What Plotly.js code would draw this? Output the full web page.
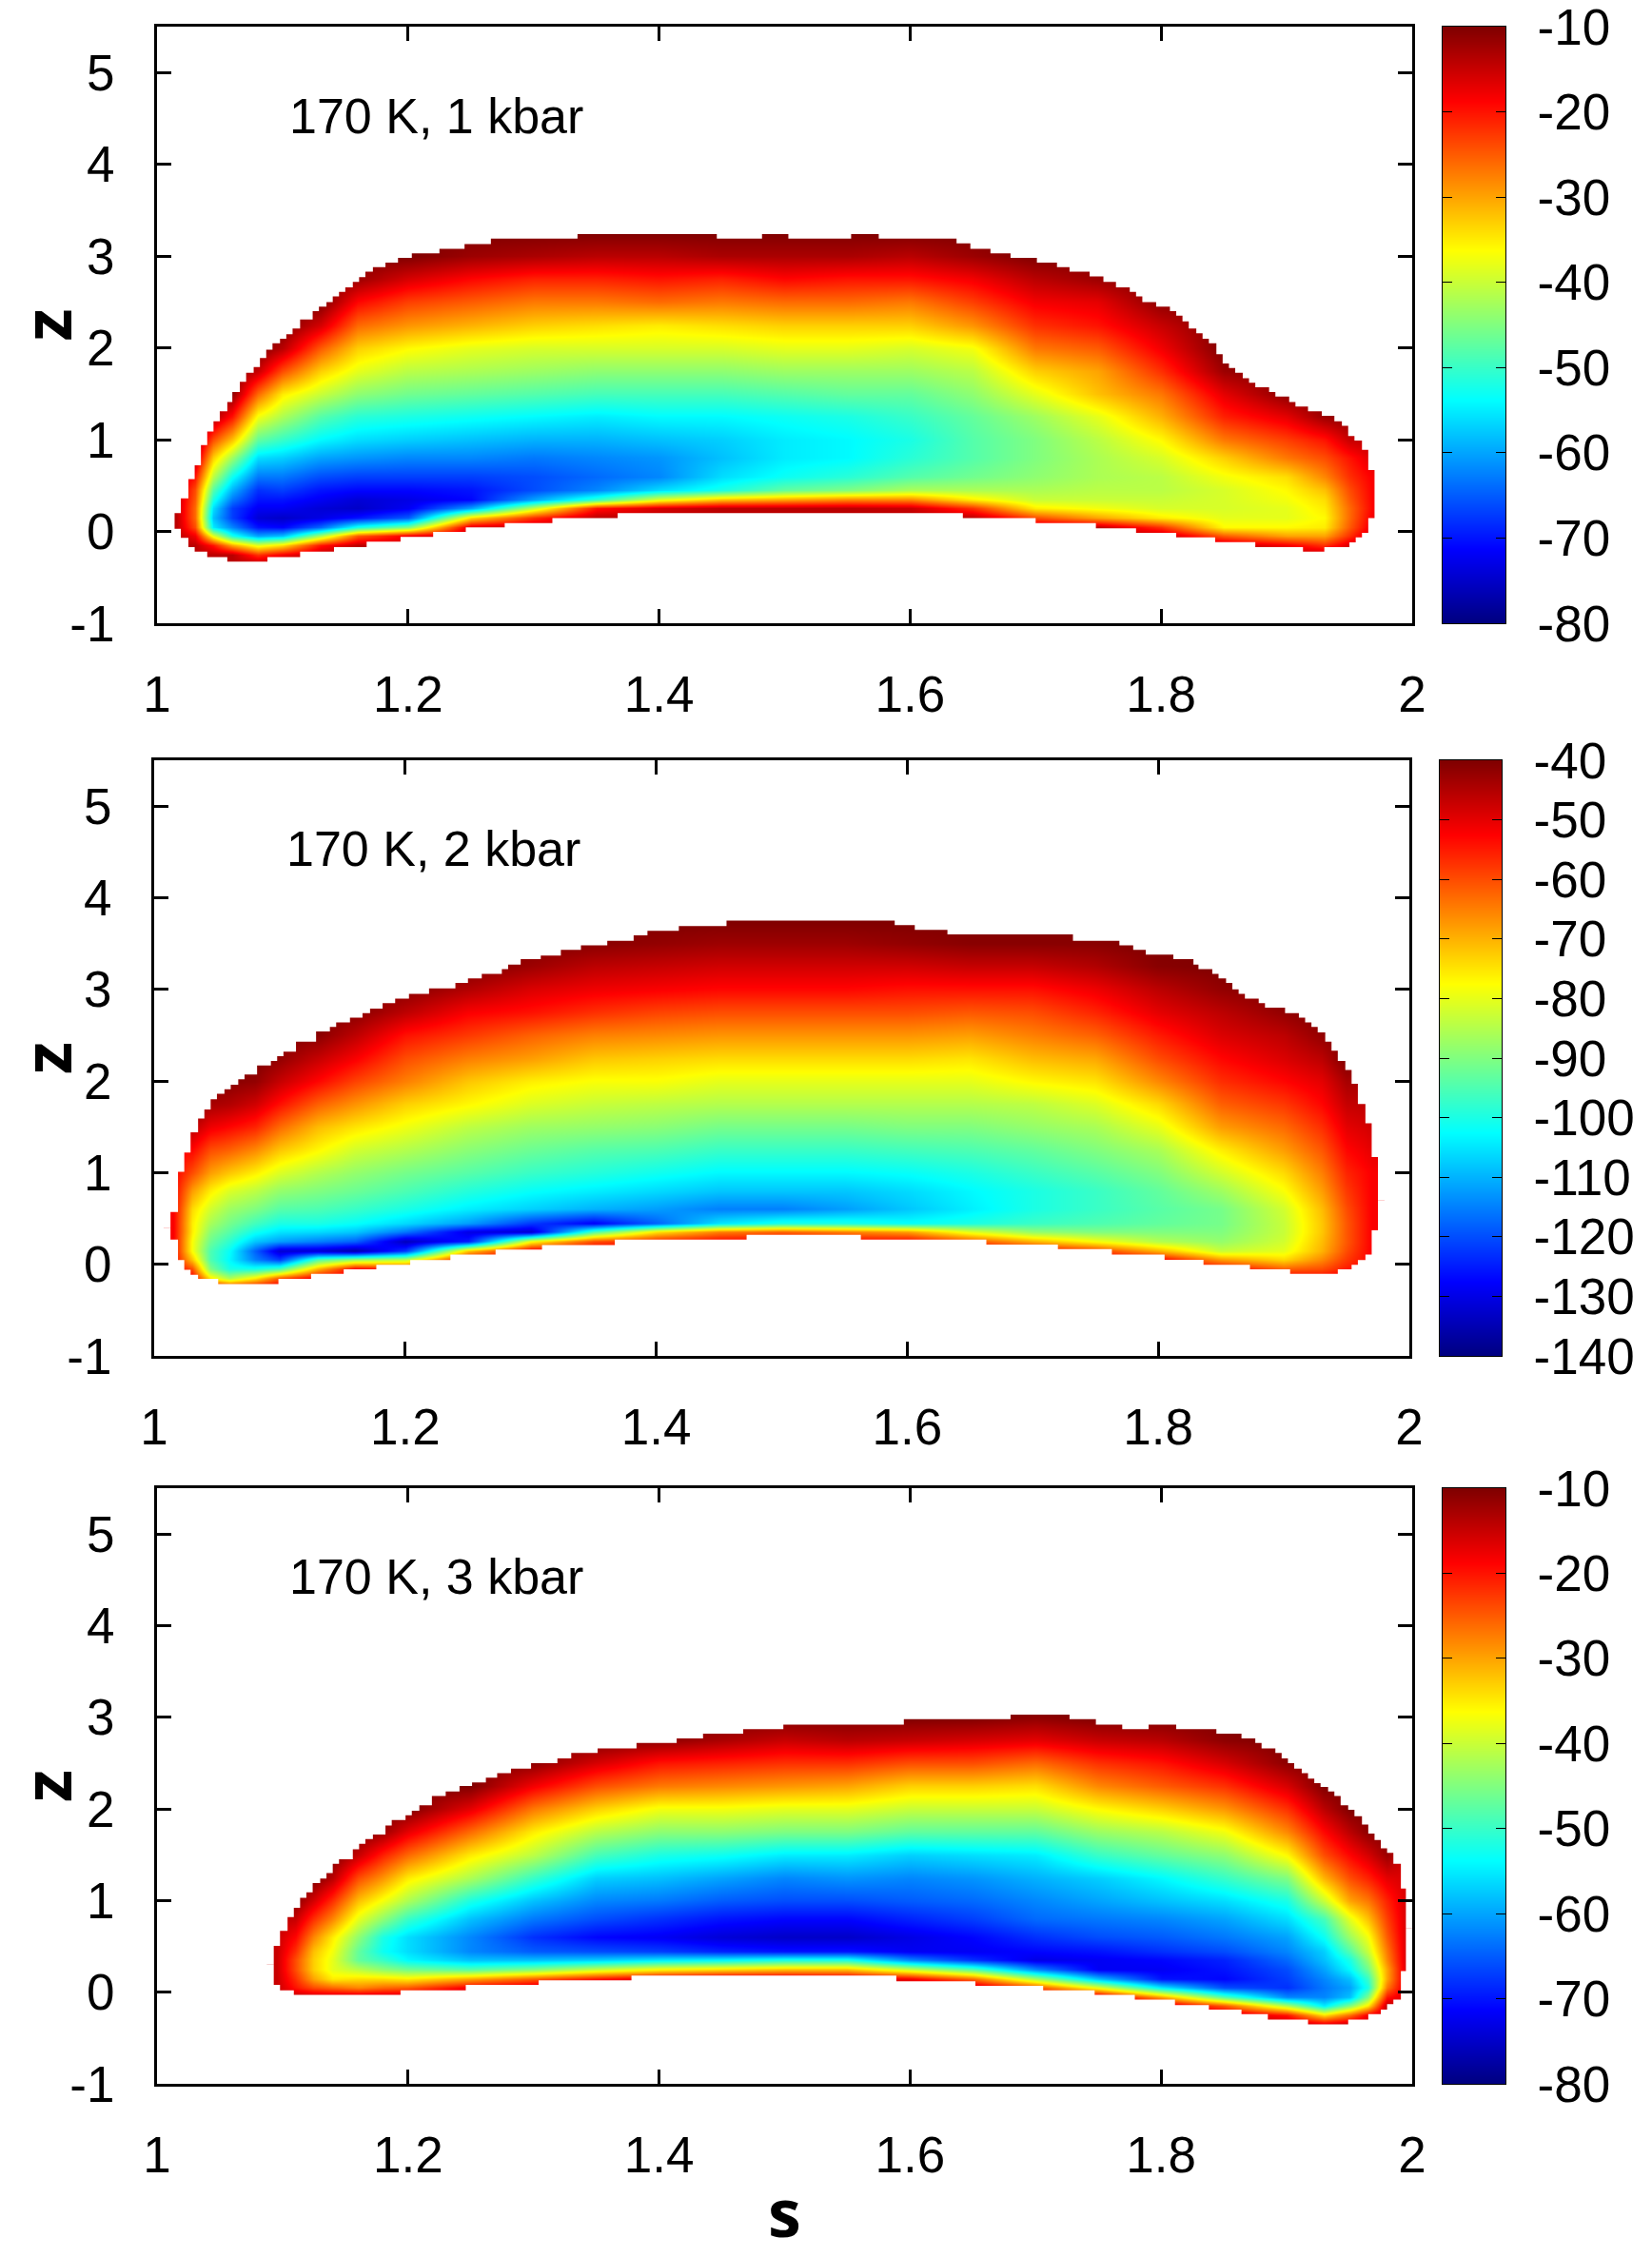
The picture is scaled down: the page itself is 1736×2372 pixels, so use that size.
<!DOCTYPE html>
<html>
<head>
<meta charset="utf-8">
<script src="https://cdn.plot.ly/plotly-3.0.1.min.js"></script>
<style>body{margin:0;background:#fff}</style>
</head>
<body>
<div id="myChart"></div>
<script>
// z levels of the table rows
const rowsLow = [-0.35,-0.25,-0.15,-0.05,0.05,0.15,0.25,0.35,0.45,0.6,0.8,1,1.25,1.5,1.75,2,2.25,2.5,2.75,3,3.25];
const rowsHigh = rowsLow.concat([3.5,3.75]);

const xTicks = [1,1.2,1.4,1.6,1.8,2];
const xTickText = ["1","1.2","1.4","1.6","1.8","2"];
const yTicks = [-1,0,1,2,3,4,5];
const yTickText = ["-1","0","1","2","3","4","5"];
const barTicksA = [-80,-70,-60,-50,-40,-30,-20,-10];
const barTextA = ["-80","-70","-60","-50","-40","-30","-20","-10"];
const barTicksB = [-140,-130,-120,-110,-100,-90,-80,-70,-60,-50,-40];
const barTextB = ["-140","-130","-120","-110","-100","-90","-80","-70","-60","-50","-40"];

// 1 kbar: s of each column, then the values of that column bottom to top
const s1 = [1.015,1.03,1.045,1.06,1.08,1.10,1.13,1.16,1.20,1.25,1.30,1.35,1.40,1.45,1.50,1.55,1.60,1.65,1.70,1.75,1.80,1.85,1.90,1.93,1.95,1.97];
const v1 = [
[-14,-14,-14,-14,-14,-14,-14,-14,-14,-14,-14,-14,-14,-14,-14,-14,-14,-14,-14,-14,-14],
[-14,-14,-14,-18,-24,-26,-26,-25,-24,-20,-14,-11,-10,-10,-10,-10,-10,-10,-10,-10,-10],
[-14,-14,-20,-38,-55,-58,-56,-52,-48,-41,-33,-24,-13,-10,-10,-10,-10,-10,-10,-10,-10],
[-14,-14,-30,-52,-62,-67,-67,-63,-59,-53,-43,-32,-20,-11,-10,-10,-10,-10,-10,-10,-10],
[-14,-22,-38,-60,-70,-74,-72,-70,-68,-63,-56,-47,-37,-26,-15,-10,-10,-10,-10,-10,-10],
[-14,-18,-34,-58,-71,-75,-72,-70,-67,-63,-57,-50,-42,-35,-24,-14,-10,-10,-10,-10,-10],
[-14,-14,-20,-42,-64,-73,-74,-72,-70,-66,-60,-54,-48,-40,-33,-25,-16,-10,-10,-10,-10],
[-14,-14,-14,-25,-52,-70,-75,-74,-71,-67,-61,-56,-51,-44,-38,-33,-26,-19,-12,-10,-10],
[-15,-15,-15,-18,-45,-65,-72,-73,-71,-67,-62,-57,-52,-46,-41,-36,-29,-23,-16,-10,-10],
[-14,-14,-14,-14,-16,-34,-60,-71,-70,-67,-62,-58,-53,-47,-42,-38,-31,-25,-19,-12,-10],
[-14,-14,-14,-14,-14,-22,-40,-60,-66,-66,-63,-59,-54,-48,-43,-39,-33,-27,-21,-13,-10],
[-14,-14,-14,-14,-14,-14,-20,-50,-62,-64,-62,-59,-55,-49,-44,-39,-34,-27,-21,-14,-10],
[-14,-14,-14,-14,-14,-14,-16,-38,-56,-62,-61,-58,-54,-49,-44,-39,-35,-26,-20,-14,-10],
[-14,-14,-14,-14,-14,-14,-14,-32,-52,-56,-58,-57,-54,-49,-44,-39,-34,-27,-21,-13,-10],
[-14,-14,-14,-14,-14,-14,-14,-30,-47,-53,-55,-55,-53,-48,-43,-38,-33,-26,-19,-13,-10],
[-14,-14,-14,-14,-14,-14,-14,-28,-45,-51,-54,-54,-52,-47,-43,-38,-33,-26,-20,-13,-10],
[-14,-14,-14,-14,-14,-14,-15,-28,-42,-48,-51,-52,-50,-47,-43,-39,-33,-27,-20,-14,-10],
[-14,-14,-14,-14,-14,-14,-22,-35,-42,-46,-48,-48,-47,-44,-41,-37,-29,-23,-18,-12,-10],
[-14,-14,-14,-14,-14,-24,-35,-40,-42,-44,-45,-45,-43,-38,-33,-27,-22,-18,-14,-10,-10],
[-14,-14,-14,-14,-14,-30,-37,-40,-41,-42,-42,-41,-38,-32,-30,-25,-20,-17,-12,-10,-10],
[-14,-14,-14,-14,-22,-35,-39,-40,-41,-41,-39,-36,-31,-27,-22,-18,-15,-11,-10,-10,-10],
[-14,-14,-14,-25,-36,-38,-39,-39,-39,-37,-33,-27,-21,-17,-12,-10,-10,-10,-10,-10,-10],
[-14,-14,-18,-30,-36,-38,-38,-37,-36,-34,-27,-23,-17,-11,-10,-10,-10,-10,-10,-10,-10],
[-14,-14,-22,-30,-35,-36,-35,-34,-32,-28,-24,-20,-12,-10,-10,-10,-10,-10,-10,-10,-10],
[-14,-14,-16,-22,-25,-26,-26,-25,-24,-22,-20,-15,-11,-10,-10,-10,-10,-10,-10,-10,-10],
[-14,-14,-14,-14,-16,-17,-18,-18,-18,-18,-16,-14,-10,-10,-10,-10,-10,-10,-10,-10,-10]
];
const top1S = [1,1.014,1.019,1.025,1.03,1.035,1.04,1.045,1.05,1.056,1.06,1.066,1.071,1.077,1.082,1.087,1.092,1.098,1.103,1.108,1.114,1.124,1.129,1.135,1.14,1.145,1.15,1.156,1.161,1.166,1.172,1.182,1.192,1.203,1.225,1.245,1.266,1.335,1.446,1.482,1.503,1.553,1.575,1.637,1.648,1.664,1.68,1.701,1.717,1.727,1.743,1.754,1.764,1.775,1.78,1.785,1.796,1.807,1.812,1.817,1.822,1.828,1.833,1.838,1.844,1.849,1.854,1.859,1.865,1.87,1.875,1.886,1.891,1.902,1.907,1.917,1.928,1.938,1.944,1.949,1.954,1.96,1.965,1.97,2];
const top1Z = [0.1,0.2,0.36,0.57,0.72,0.94,1.09,1.2,1.31,1.41,1.52,1.63,1.73,1.79,1.89,1.98,2.05,2.1,2.15,2.21,2.31,2.4,2.45,2.5,2.56,2.61,2.66,2.72,2.77,2.83,2.88,2.93,2.98,3.03,3.08,3.13,3.19,3.24,3.19,3.24,3.19,3.24,3.19,3.14,3.08,3.03,2.98,2.93,2.88,2.83,2.78,2.72,2.66,2.61,2.56,2.5,2.45,2.4,2.35,2.29,2.21,2.16,2.1,2.05,1.93,1.83,1.78,1.73,1.67,1.62,1.57,1.52,1.47,1.41,1.36,1.31,1.26,1.2,1.15,1.04,0.99,0.89,0.67,0.4,0.4];
const bot1S = [1,1.014,1.019,1.025,1.03,1.04,1.056,1.088,1.114,1.141,1.167,1.194,1.22,1.246,1.277,1.315,1.367,1.642,1.7,1.748,1.78,1.812,1.843,1.875,1.913,1.93,1.95,1.955,1.96,1.965,1.97,2];
const bot1Z = [0.1,0.03,-0.07,-0.17,-0.22,-0.28,-0.33,-0.28,-0.22,-0.17,-0.11,-0.06,-0.005,0.045,0.09,0.146,0.2,0.146,0.09,0.035,-0.015,-0.065,-0.116,-0.17,-0.22,-0.17,-0.12,-0.065,-0.015,0.146,0.4,0.4];

// 2 kbar
const s2 = [1.015,1.03,1.045,1.06,1.08,1.10,1.13,1.16,1.20,1.25,1.30,1.35,1.40,1.45,1.50,1.55,1.60,1.65,1.70,1.75,1.80,1.85,1.90,1.93,1.95,1.97];
const v2 = [
[-52,-52,-52,-52,-52,-52,-52,-52,-52,-52,-52,-52,-52,-52,-52,-52,-52,-52,-52,-52,-52,-52,-52],
[-50,-50,-52,-60,-72,-78,-78,-76,-76,-74,-68,-60,-53,-46,-40,-40,-40,-40,-40,-40,-40,-40,-40],
[-50,-50,-75,-90,-95,-95,-92,-89,-86,-82,-76,-68,-60,-51,-44,-40,-40,-40,-40,-40,-40,-40,-40],
[-50,-55,-85,-100,-103,-102,-98,-94,-91,-87,-81,-72,-62,-53,-45,-41,-40,-40,-40,-40,-40,-40,-40],
[-50,-52,-75,-100,-115,-118,-108,-101,-96,-90,-84,-76,-66,-56,-48,-42,-40,-40,-40,-40,-40,-40,-40],
[-50,-50,-60,-95,-122,-132,-112,-105,-100,-94,-88,-81,-72,-63,-54,-47,-42,-40,-40,-40,-40,-40,-40],
[-50,-50,-50,-70,-95,-132,-115,-106,-100,-95,-90,-85,-77,-71,-62,-53,-47,-41,-40,-40,-40,-40,-40],
[-50,-50,-50,-52,-88,-136,-118,-108,-102,-97,-92,-88,-82,-75,-67,-59,-52,-46,-41,-40,-40,-40,-40],
[-50,-50,-50,-55,-85,-122,-134,-116,-106,-100,-95,-91,-85,-79,-73,-65,-60,-54,-46,-41,-40,-40,-40],
[-50,-50,-50,-50,-52,-72,-125,-130,-112,-104,-99,-94,-89,-84,-77,-72,-65,-58,-52,-45,-40,-40,-40],
[-50,-50,-50,-50,-50,-50,-78,-132,-122,-107,-102,-97,-92,-87,-81,-76,-68,-62,-54,-49,-43,-40,-40],
[-50,-50,-50,-50,-50,-50,-60,-95,-128,-110,-104,-99,-94,-88,-83,-78,-72,-65,-57,-51,-46,-41,-40],
[-50,-50,-50,-50,-50,-50,-55,-75,-118,-112,-106,-101,-95,-89,-84,-78,-73,-66,-59,-52,-47,-42,-40],
[-50,-50,-50,-50,-50,-50,-52,-65,-105,-115,-108,-103,-97,-91,-85,-80,-74,-67,-60,-53,-48,-43,-40],
[-50,-50,-50,-50,-50,-50,-52,-62,-100,-115,-108,-103,-97,-91,-85,-80,-74,-67,-60,-53,-48,-43,-40],
[-50,-50,-50,-50,-50,-50,-52,-65,-100,-112,-108,-103,-97,-91,-85,-80,-74,-67,-60,-53,-48,-43,-40],
[-50,-50,-50,-50,-50,-50,-52,-68,-102,-108,-106,-102,-96,-90,-85,-80,-74,-67,-60,-54,-48,-42,-40],
[-50,-50,-50,-50,-50,-50,-60,-80,-100,-104,-103,-100,-95,-90,-85,-80,-75,-68,-61,-54,-47,-41,-40],
[-50,-50,-50,-50,-50,-52,-70,-88,-97,-100,-100,-97,-93,-88,-84,-77,-71,-65,-60,-54,-47,-41,-40],
[-50,-50,-50,-50,-50,-58,-78,-90,-95,-97,-97,-94,-90,-86,-81,-75,-69,-62,-56,-51,-45,-41,-40],
[-50,-50,-50,-50,-52,-70,-85,-90,-93,-94,-93,-90,-86,-80,-74,-66,-60,-55,-50,-46,-41,-40,-40],
[-50,-50,-50,-52,-68,-83,-88,-90,-91,-91,-87,-82,-76,-68,-62,-57,-53,-49,-46,-42,-40,-40,-40],
[-50,-50,-50,-62,-74,-80,-82,-83,-83,-82,-78,-74,-68,-63,-58,-53,-49,-46,-42,-40,-40,-40,-40],
[-50,-50,-52,-60,-66,-70,-71,-72,-72,-71,-68,-65,-61,-57,-53,-50,-46,-42,-40,-40,-40,-40,-40],
[-50,-50,-50,-55,-58,-60,-61,-61,-61,-60,-58,-56,-53,-50,-47,-44,-40,-40,-40,-40,-40,-40,-40],
[-52,-52,-52,-52,-52,-52,-52,-52,-52,-52,-52,-52,-50,-48,-46,-44,-40,-40,-40,-40,-40,-40,-40]
];
const top2S = [1,1.013,1.019,1.024,1.029,1.035,1.04,1.045,1.05,1.056,1.061,1.067,1.072,1.082,1.093,1.098,1.103,1.113,1.129,1.14,1.145,1.156,1.166,1.172,1.182,1.192,1.203,1.219,1.24,1.25,1.261,1.277,1.282,1.292,1.308,1.324,1.34,1.361,1.382,1.393,1.418,1.456,1.59,1.606,1.632,1.732,1.769,1.78,1.79,1.812,1.828,1.832,1.843,1.848,1.854,1.859,1.864,1.869,1.88,1.885,1.901,1.912,1.917,1.922,1.927,1.933,1.938,1.943,1.949,1.954,1.959,1.965,1.97,1.975,2];
const top2Z = [0.4,0.57,1.01,1.22,1.44,1.59,1.69,1.8,1.86,1.91,1.96,2.02,2.07,2.17,2.22,2.27,2.32,2.43,2.54,2.59,2.64,2.69,2.74,2.79,2.85,2.9,2.95,3.01,3.07,3.12,3.17,3.22,3.27,3.33,3.37,3.43,3.48,3.53,3.59,3.64,3.69,3.75,3.7,3.65,3.6,3.53,3.48,3.43,3.38,3.33,3.27,3.22,3.17,3.12,3.07,3.0,2.95,2.9,2.85,2.8,2.74,2.69,2.64,2.59,2.53,2.43,2.33,2.22,2.12,1.97,1.75,1.54,1.17,0.7,0.7];
const bot2S = [1,1.013,1.019,1.024,1.029,1.035,1.051,1.099,1.125,1.151,1.177,1.204,1.236,1.272,1.309,1.367,1.472,1.563,1.663,1.72,1.763,1.805,1.836,1.873,1.905,1.943,1.954,1.959,1.965,1.97,1.975,2];
const bot2Z = [0.4,0.27,0.045,-0.06,-0.116,-0.16,-0.216,-0.16,-0.105,-0.055,-0.005,0.045,0.105,0.16,0.21,0.27,0.32,0.27,0.216,0.166,0.105,0.05,-0.005,-0.055,-0.105,-0.055,-0.005,0.045,0.105,0.37,0.7,0.7];

// 3 kbar
const s3 = [1.095,1.11,1.125,1.14,1.16,1.18,1.20,1.25,1.30,1.35,1.40,1.45,1.50,1.55,1.60,1.65,1.70,1.75,1.80,1.85,1.90,1.93,1.95,1.965,1.98,1.995];
const v3 = [
[-15,-15,-15,-15,-15,-15,-15,-15,-15,-15,-14,-14,-14,-14,-14,-14,-14,-14,-14,-14,-14],
[-14,-14,-14,-14,-20,-22,-24,-24,-22,-19,-15,-11,-10,-10,-10,-10,-10,-10,-10,-10,-10],
[-14,-14,-14,-14,-24,-30,-33,-33,-32,-28,-22,-16,-10,-10,-10,-10,-10,-10,-10,-10,-10],
[-14,-14,-14,-14,-26,-35,-38,-38,-37,-35,-28,-22,-14,-10,-10,-10,-10,-10,-10,-10,-10],
[-14,-14,-14,-14,-28,-34,-41,-47,-47,-44,-38,-32,-24,-15,-10,-10,-10,-10,-10,-10,-10],
[-14,-14,-14,-14,-26,-34,-44,-50,-53,-52,-44,-37,-29,-21,-12,-10,-10,-10,-10,-10,-10],
[-14,-14,-14,-14,-25,-35,-46,-54,-56,-56,-50,-42,-35,-26,-17,-10,-10,-10,-10,-10,-10],
[-14,-14,-14,-14,-18,-30,-48,-58,-62,-62,-58,-52,-42,-35,-26,-17,-10,-10,-10,-10,-10],
[-14,-14,-14,-14,-15,-25,-45,-58,-65,-68,-63,-58,-50,-41,-35,-27,-18,-11,-10,-10,-10],
[-14,-14,-14,-14,-14,-20,-40,-57,-66,-71,-66,-62,-57,-49,-41,-33,-24,-16,-10,-10,-10],
[-14,-14,-14,-14,-14,-16,-36,-55,-67,-72,-68,-63,-58,-52,-44,-37,-27,-20,-11,-10,-10],
[-14,-14,-14,-14,-14,-14,-34,-54,-69,-74,-70,-65,-60,-53,-44,-37,-28,-21,-13,-10,-10],
[-14,-14,-14,-14,-14,-14,-32,-52,-70,-75,-71,-66,-62,-55,-45,-38,-29,-22,-15,-10,-10],
[-14,-14,-14,-14,-14,-15,-32,-52,-70,-75,-71,-66,-61,-55,-45,-38,-30,-22,-14,-10,-10],
[-14,-14,-14,-14,-14,-18,-40,-62,-72,-73,-69,-65,-62,-57,-47,-40,-33,-24,-15,-10,-10],
[-14,-14,-14,-14,-14,-26,-48,-68,-72,-71,-67,-64,-61,-56,-47,-40,-33,-24,-16,-10,-10],
[-14,-14,-14,-14,-24,-42,-62,-73,-71,-68,-64,-62,-59,-55,-47,-40,-34,-26,-17,-11,-10],
[-14,-14,-14,-14,-38,-58,-72,-72,-70,-66,-63,-60,-57,-50,-43,-36,-28,-22,-15,-10,-10],
[-14,-14,-14,-30,-55,-70,-72,-71,-68,-65,-62,-58,-54,-47,-41,-33,-25,-20,-14,-10,-10],
[-14,-14,-25,-48,-66,-71,-70,-69,-66,-63,-60,-56,-50,-44,-37,-29,-22,-16,-11,-10,-10],
[-14,-20,-42,-62,-68,-67,-66,-64,-62,-60,-56,-52,-45,-36,-28,-22,-16,-11,-10,-10,-10],
[-16,-34,-55,-62,-63,-62,-60,-58,-57,-53,-49,-40,-31,-24,-19,-14,-10,-10,-10,-10,-10],
[-14,-26,-45,-58,-60,-58,-54,-52,-48,-43,-38,-30,-24,-19,-14,-10,-10,-10,-10,-10,-10],
[-14,-18,-35,-45,-52,-50,-46,-43,-40,-37,-32,-27,-21,-16,-11,-10,-10,-10,-10,-10,-10],
[-14,-14,-14,-20,-27,-30,-30,-28,-27,-25,-23,-21,-17,-12,-10,-10,-10,-10,-10,-10,-10],
[-16,-16,-16,-16,-16,-16,-16,-16,-16,-16,-16,-16,-16,-16,-14,-10,-10,-10,-10,-10,-10]
];
const top3S = [1,1.093,1.098,1.104,1.109,1.114,1.119,1.124,1.13,1.135,1.14,1.145,1.156,1.161,1.166,1.172,1.182,1.187,1.198,1.203,1.209,1.219,1.23,1.241,1.251,1.262,1.271,1.282,1.298,1.319,1.33,1.351,1.382,1.414,1.435,1.467,1.499,1.595,1.68,1.727,1.748,1.769,1.79,1.812,1.844,1.864,1.875,1.88,1.891,1.896,1.901,1.906,1.912,1.917,1.922,1.927,1.933,1.938,1.943,1.949,1.954,1.96,1.965,1.97,1.975,1.98,1.985,1.991,1.995,2];
const top3Z = [0.3,0.506,0.67,0.82,0.92,1.03,1.09,1.19,1.24,1.3,1.4,1.45,1.56,1.62,1.67,1.72,1.82,1.88,1.93,1.98,2.04,2.14,2.19,2.25,2.29,2.34,2.39,2.44,2.5,2.55,2.61,2.66,2.72,2.77,2.82,2.87,2.92,2.98,3.03,2.98,2.92,2.87,2.92,2.87,2.82,2.77,2.72,2.66,2.61,2.55,2.5,2.44,2.39,2.33,2.28,2.24,2.19,2.14,2.04,1.99,1.92,1.83,1.73,1.66,1.57,1.52,1.4,1.13,0.7,0.7];
const bot3S = [1,1.093,1.098,1.109,1.194,1.246,1.304,1.378,1.589,1.652,1.706,1.747,1.779,1.811,1.838,1.864,1.885,1.917,1.949,1.965,1.975,1.98,1.985,1.991,1.995,2];
const bot3Z = [0.3,0.08,0.02,-0.03,0.02,0.08,0.13,0.18,0.12,0.07,0.02,-0.03,-0.08,-0.14,-0.19,-0.24,-0.3,-0.35,-0.3,-0.24,-0.19,-0.13,-0.08,0.23,0.7,0.7];

const labels = ["170 K, 1 kbar","170 K, 2 kbar","170 K, 3 kbar"];

const jet = [
  [0,"#00007f"],[0.125,"#0000ff"],[0.375,"#00ffff"],[0.5,"#80ff80"],
  [0.625,"#ffff00"],[0.875,"#ff0000"],[1,"#7f0000"]
];

const W = 1736, H = 2372;
const font = "Liberation Sans, Arial, sans-serif";

// pixel boxes of the panels and their scale bars
const panels = [
  {s:s1, v:v1, rows:rowsLow,  topS:top1S, topZ:top1Z, botS:bot1S, botZ:bot1Z, zr:[-80,-10],  tv:barTicksA, tt:barTextA, l:165, r:1484, t:28,  b:655,  bl:1516, br:1582},
  {s:s2, v:v2, rows:rowsHigh, topS:top2S, topZ:top2Z, botS:bot2S, botZ:bot2Z, zr:[-140,-40], tv:barTicksB, tt:barTextB, l:162, r:1481, t:799, b:1425, bl:1513, br:1578},
  {s:s3, v:v3, rows:rowsLow,  topS:top3S, topZ:top3Z, botS:bot3S, botZ:bot3Z, zr:[-80,-10],  tv:barTicksA, tt:barTextA, l:165, r:1484, t:1564,b:2190, bl:1516, br:1582}
];

var traces = [];
var layout = {
  width: W, height: H, margin: {l:0,r:0,t:0,b:0},
  paper_bgcolor: "#fff", plot_bgcolor: "#fff",
  showlegend: false, annotations: [],
  font: {family: font, size: 53, color: "#000"}
};

panels.forEach((p, i) => {
  const a = 2*i + 1, b = 2*i + 2;
  const xa = "x" + a, ya = "y" + a, xb = "x" + b, yb = "y" + b;

  traces.push({
    type: "heatmap", x: p.s, y: p.rows, z: p.v, transpose: true,
    xaxis: xa, yaxis: ya, zmin: p.zr[0], zmax: p.zr[1],
    colorscale: jet, zsmooth: "best", showscale: false, hoverinfo: "skip"
  });
  // white above and below the outline of the data
  traces.push({
    type: "scatter", mode: "lines", xaxis: xa, yaxis: ya,
    x: p.topS.concat([2,1]), y: p.topZ.concat([5.5,5.5]),
    line: {shape:"hv", width:0}, fill:"toself", fillcolor:"#fff", hoverinfo:"skip"
  });
  traces.push({
    type: "scatter", mode: "lines", xaxis: xa, yaxis: ya,
    x: p.botS.concat([2,1]), y: p.botZ.concat([-1,-1]),
    line: {shape:"hv", width:0}, fill:"toself", fillcolor:"#fff", hoverinfo:"skip"
  });
  // scale bar
  traces.push({
    type: "heatmap", x: [0,1], y: p.zr, z: [[p.zr[0],p.zr[0]],[p.zr[1],p.zr[1]]],
    xaxis: xb, yaxis: yb, zmin: p.zr[0], zmax: p.zr[1],
    colorscale: jet, zsmooth: "best", showscale: false, hoverinfo: "skip"
  });

  const yDom = [1 - p.b/H, 1 - p.t/H];
  layout["xaxis" + a] = {
    domain: [p.l/W, p.r/W], range: [1,2], anchor: ya,
    tickmode: "array", tickvals: xTicks, ticktext: xTickText,
    ticks: "inside", ticklen: 15, tickwidth: 3, tickcolor: "#000",
    showline: true, linewidth: 3, linecolor: "#000", mirror: "ticks",
    showgrid: false, zeroline: false, ticklabelstandoff: 26,
    ticklabeloverflow: "allow",
    tickfont: {family: font, size: 53, color: "#000"},
    title: i === 2 ? {text: "<b>s</b>", font: {family: "Open Sans", size: 70, color: "#000"}, standoff: 17} : {text: ""}
  };
  layout["yaxis" + a] = {
    domain: yDom, range: [-1,5.5], anchor: xa,
    tickmode: "array", tickvals: yTicks, ticktext: yTickText,
    ticks: "inside", ticklen: 15, tickwidth: 3, tickcolor: "#000",
    showline: true, linewidth: 3, linecolor: "#000", mirror: "ticks",
    showgrid: false, zeroline: false, ticklabelstandoff: 31,
    ticklabeloverflow: "allow",
    tickfont: {family: font, size: 53, color: "#000"},
    title: {text: "<b>z</b>", font: {family: "Open Sans", size: 70, color: "#000"}, standoff: 23}
  };
  layout["xaxis" + b] = {
    domain: [p.bl/W, p.br/W], range: [0,1], anchor: yb,
    showticklabels: false, ticks: "", showgrid: false, zeroline: false,
    showline: true, linewidth: 1, linecolor: "#000", mirror: true
  };
  layout["yaxis" + b] = {
    domain: yDom, range: p.zr, anchor: xb, side: "right",
    tickmode: "array", tickvals: p.tv, ticktext: p.tt,
    ticks: "inside", ticklen: 10, tickwidth: 1, tickcolor: "#000",
    showline: true, linewidth: 1, linecolor: "#000", mirror: "ticks",
    showgrid: false, zeroline: false, ticklabelstandoff: 22,
    ticklabeloverflow: "allow",
    tickfont: {family: font, size: 53, color: "#000"}
  };
  layout.annotations.push({
    xref: xa, yref: ya, x: 1.104, y: 4.53, xanchor: "left", yanchor: "middle",
    text: labels[i], showarrow: false, font: {family: font, size: 52, color: "#000"}
  });
});

Plotly.newPlot("myChart", traces, layout, {displayModeBar: false});
</script>
</body>
</html>
